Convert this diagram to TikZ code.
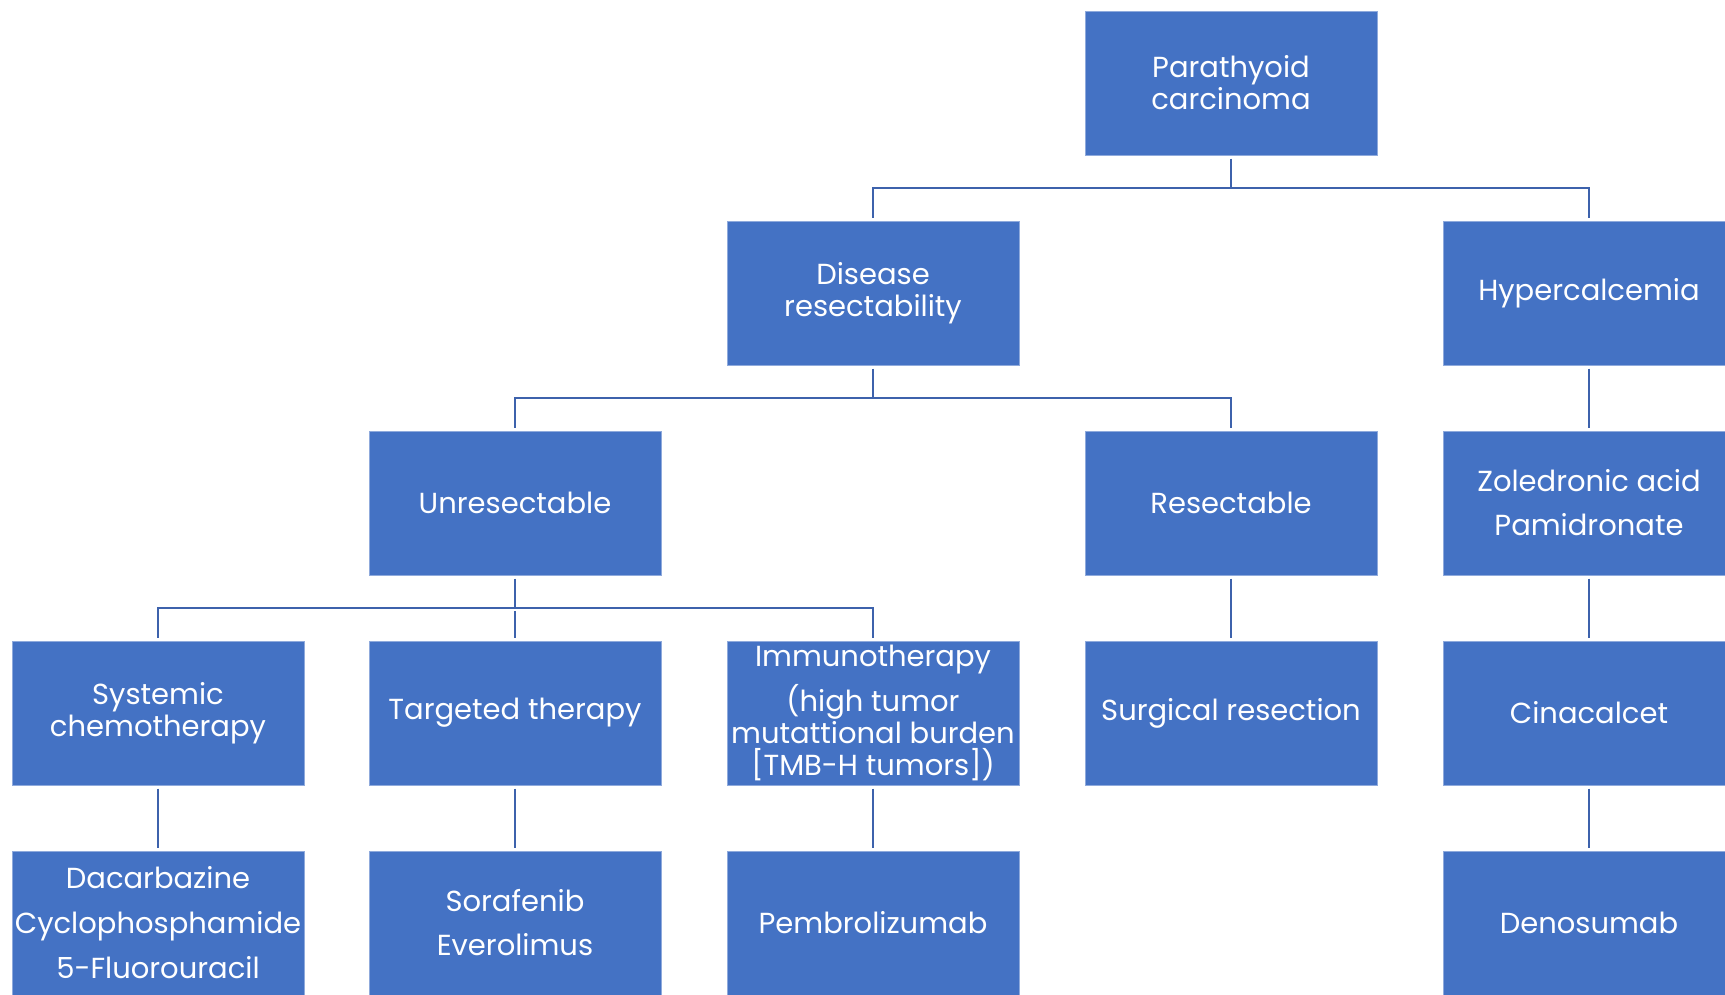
\documentclass[tikz,border=0pt]{standalone}
\usepackage{fontspec}
\setmainfont{Poppins}
\definecolor{boxblue}{HTML}{4472C4}
\definecolor{boxedge}{HTML}{8FAADC}
\definecolor{linkblue}{HTML}{3D62AC}
\begin{document}
\begin{tikzpicture}[x=1pt,y=-1pt,
  box/.style={rectangle, fill=boxblue, draw=boxedge, line width=1pt,
    minimum width=292pt, minimum height=144pt, text=white, align=center,
    font=\fontsize{29}{32}\selectfont, inner sep=0pt},
  link/.style={draw=linkblue, line width=2.6pt, shorten <=3pt, shorten >=3pt},
  stub/.style={draw=linkblue, line width=2.6pt, shorten <=3pt}]
\useasboundingbox (0,0) rectangle (1725,994);
\clip (0,0) rectangle (1725,994);
\fill[white] (0,0) rectangle (1725,994);
\node[box] (root) at (1231,83) {Parathyoid\\carcinoma};
\node[box] (dis) at (873,293) {Disease\\resectability};
\node[box] (hyp) at (1589,293) {Hypercalcemia};
\node[box] (unr) at (515,503) {Unresectable};
\node[box] (res) at (1231,503) {Resectable};
\node[box] (zol) at (1589,503) {Zoledronic acid\\[12pt]Pamidronate};
\node[box] (sys) at (158,713) {Systemic\\chemotherapy};
\node[box] (tar) at (515,713) {Targeted therapy};
\node[box] (imm) at (873,713) {Immunotherapy\\[9pt](high tumor\\mutattional burden\\{[}TMB-H tumors{]})};
\node[box] (sur) at (1231,713) {Surgical resection};
\node[box] (cin) at (1589,713) {Cinacalcet};
\node[box] (dac) at (158,923) {Dacarbazine\\[13pt]Cyclophosphamide\\[13pt]5-Fluorouracil};
\node[box] (sor) at (515,923) {Sorafenib\\[12pt]Everolimus};
\node[box] (pem) at (873,923) {Pembrolizumab};
\node[box] (den) at (1589,923) {Denosumab};
\coordinate (bus1) at (0,188);
\coordinate (bus2) at (0,398);
\coordinate (bus3) at (0,608);
\draw[stub] (root.south) -- (root.south |- bus1);
\draw[link] (dis.north) |- (root.south |- bus1) -| (hyp.north);
\draw[stub] (dis.south) -- (dis.south |- bus2);
\draw[link] (unr.north) |- (dis.south |- bus2) -| (res.north);
\draw[stub] (unr.south) -- (unr.south |- bus3);
\draw[link] (sys.north) |- (unr.south |- bus3) -| (imm.north);
\draw[link] (tar.north) -- (tar.north |- bus3);
\draw[link] (hyp.south) -- (zol.north);
\draw[link] (zol.south) -- (cin.north);
\draw[link] (cin.south) -- (den.north);
\draw[link] (res.south) -- (sur.north);
\draw[link] (sys.south) -- (dac.north);
\draw[link] (tar.south) -- (sor.north);
\draw[link] (imm.south) -- (pem.north);
\end{tikzpicture}
\end{document}
